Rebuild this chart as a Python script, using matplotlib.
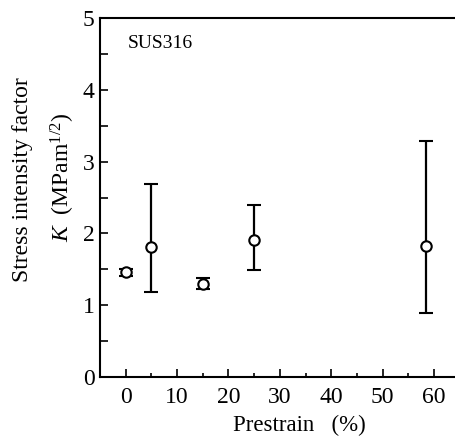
import matplotlib
matplotlib.use("Agg")
import matplotlib.pyplot as plt
from matplotlib.ticker import MultipleLocator

plt.rcParams['font.family'] = ['Liberation Serif', 'DejaVu Serif']
plt.rcParams['mathtext.fontset'] = 'custom'
plt.rcParams['mathtext.rm'] = 'Liberation Serif'
plt.rcParams['mathtext.it'] = 'Liberation Serif:italic'

# prestrain (%) and stress intensity factor K
prestrain = [0, 5, 15, 25, 58.5]
k_mean = [1.46, 1.81, 1.30, 1.91, 1.83]
k_low = [1.41, 1.19, 1.22, 1.49, 0.89]
k_high = [1.51, 2.69, 1.38, 2.40, 3.29]

err_lo = [m - lo for m, lo in zip(k_mean, k_low)]
err_hi = [hi - m for m, hi in zip(k_mean, k_high)]

fig = plt.figure(figsize=(4.55, 4.38), dpi=100)
ax = fig.add_axes([0.22, 0.139, 0.79, 0.820])

ax.errorbar(prestrain, k_mean, yerr=[err_lo, err_hi], fmt='o', color='black',
            mfc='white', mec='black', ms=7.5, mew=1.5, elinewidth=1.6,
            capsize=4.8, capthick=1.6)

ax.set_xlim(-5, 65)
ax.set_ylim(0, 5)
ax.xaxis.set_major_locator(MultipleLocator(10))
ax.xaxis.set_minor_locator(MultipleLocator(5))
ax.yaxis.set_major_locator(MultipleLocator(1))
ax.yaxis.set_minor_locator(MultipleLocator(0.5))
ax.tick_params(which='both', direction='in', width=1.2, labelsize=17)
ax.tick_params(axis='y', which='both', length=6, pad=4)
ax.tick_params(axis='x', which='major', length=6, pad=7)
ax.tick_params(axis='x', which='minor', length=3)
ax.tick_params(top=False, right=False)

for side in ['left', 'bottom', 'top']:
    ax.spines[side].set_linewidth(1.5)
ax.spines['right'].set_visible(False)

ax.text(0.4, 4.64, 'SUS316', fontsize=14, va='center', ha='left')

ax.set_xlabel('Prestrain   (%)', fontsize=16.5)
ax.xaxis.set_label_coords(0.555, -0.105)

fig.text(0.05, 0.59, 'Stress intensity factor', rotation=90, fontsize=17,
         ha='center', va='center')
fig.text(0.138, 0.595, r'$K$  (MPam$^{1/2}$)', rotation=90, fontsize=17,
         ha='center', va='center')

fig.savefig('out.png', dpi=100)
